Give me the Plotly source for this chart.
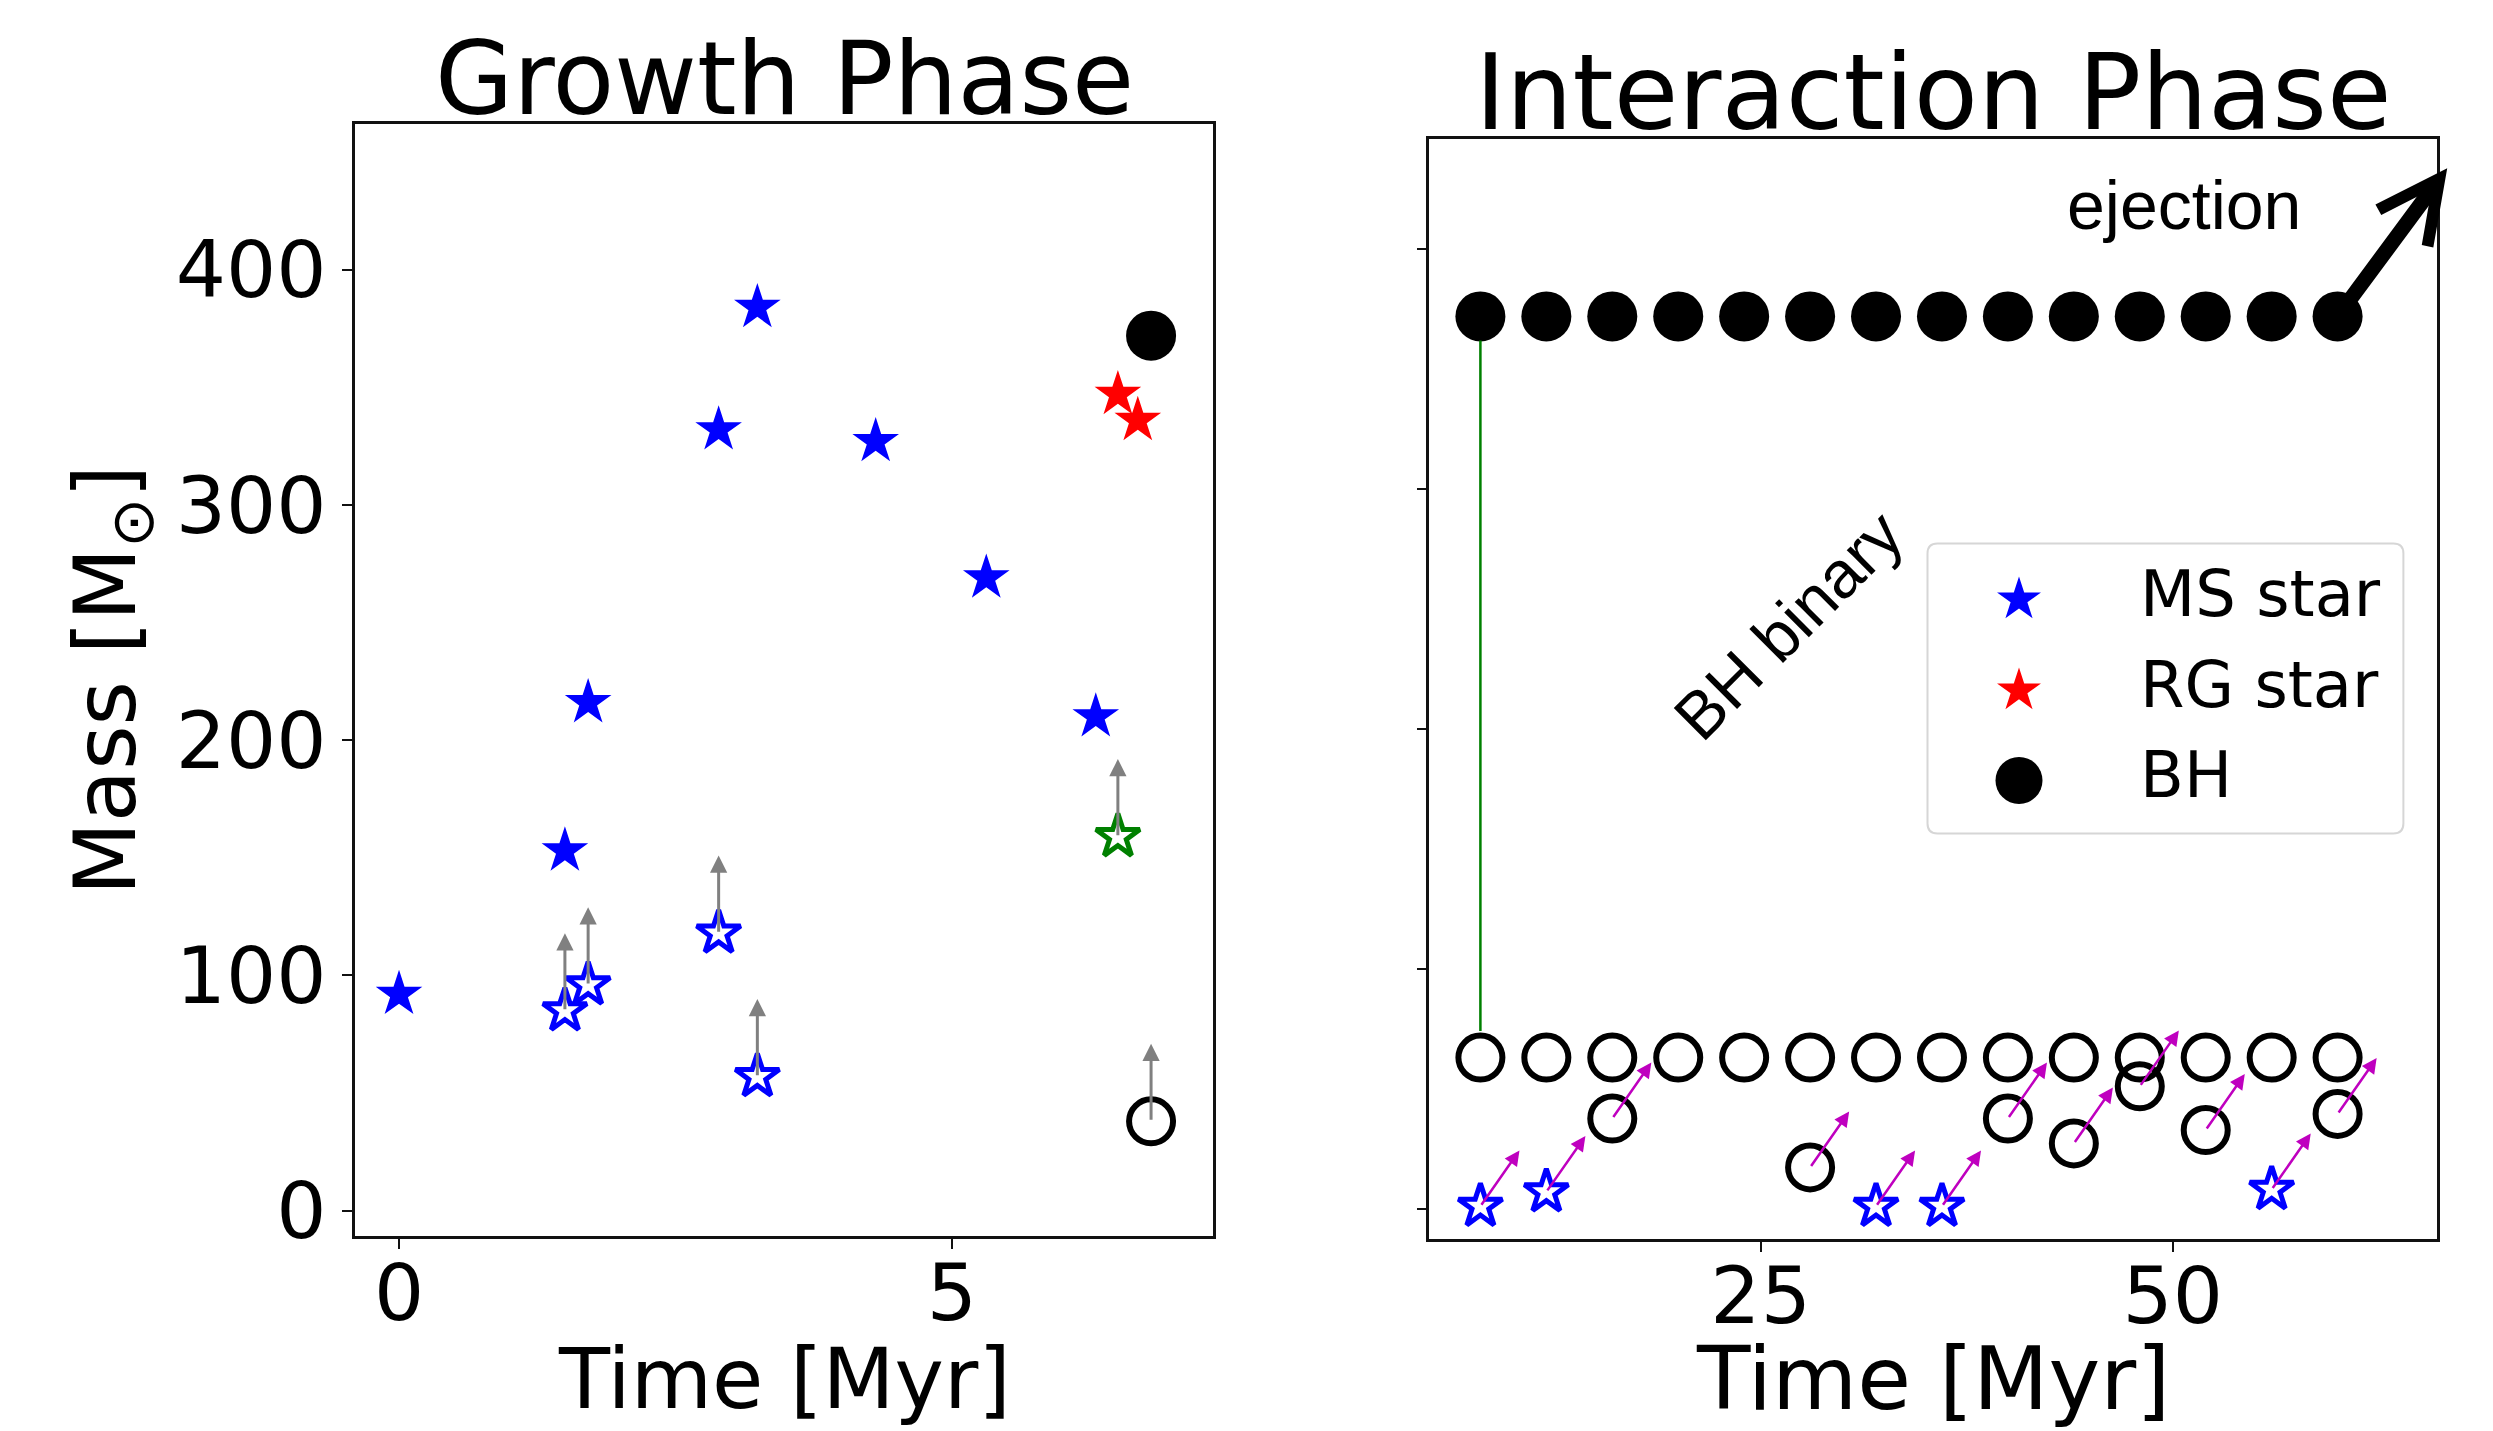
import plotly.graph_objects as go

W, H = 2493, 1451   # page height; the photograph squeezes it to 1431 rows
REF_H = 1431

# ---------------- Growth phase data ----------------
ms_t = [0.0, 1.50, 1.71, 2.89, 3.24, 4.31, 5.31, 6.30]
ms_m = [92, 153, 216, 332, 384, 327, 269, 210]
rg_t = [6.50, 6.68]
rg_m = [347, 336]
bh_t = [6.80]
bh_m = [372]
acc_ms_t = [1.50, 1.71, 2.89, 3.24]
acc_ms_m = [85, 96, 118, 57]
acc_rg_t = [6.50]
acc_rg_m = [159]
acc_bh_t = [6.80]
acc_bh_m = [38]
growth_dm = [33, 33, 33, 33, 33, 33]   # accretion arrow length (Msun)

# ---------------- Interaction phase data ----------------
int_t = [8, 12, 16, 20, 24, 28, 32, 36, 40, 44, 48, 52, 56, 60]
bh1_m = [372, 372, 372, 372, 372, 372, 372, 372, 372, 372, 372, 372, 372, 372]
bh2_m = [63, 63, 63, 63, 63, 63, 63, 63, 63, 63, 63, 63, 63, 63]
int_ms_t = [8, 12, 32, 36, 56]
int_ms_m = [1, 7, 1, 1, 8]
int_bh_t = [16, 28, 40, 44, 48, 52, 60]
int_bh_m = [37.6, 17.2, 37.6, 27.2, 51.0, 32.8, 39.5]
enc_dt, enc_dm = 2.37, 23.3      # direction of encounter arrows
eject_dt, eject_dm = 6.65, 61.8  # ejection arrow

legend_labels = ["MS star", "RG star", "BH"]

BLUE, RED, GREEN, BLACK = "#0000ff", "#ff0000", "#008000", "#000000"
GRAY, MAG = "#808080", "#bf00bf"
FONT = "DejaVu Sans"
ARIAL = "Liberation Sans, Arial"

S_STAR, S_OSTAR, S_CIRC, S_OCIRC = 35, 33, 50, 44
LW_OSTAR, LW_OCIRC = 5, 6


def py(px):
    """row in the final picture (from top) -> paper fraction"""
    return 1 - px / REF_H


fig = go.Figure()


def sc(x, y, sym, color, size, lw, xa="x", ya="y"):
    return go.Scatter(
        x=x, y=y, mode="markers", xaxis=xa, yaxis=ya, showlegend=False,
        cliponaxis=False, hoverinfo="skip",
        marker=dict(symbol=sym, size=size, color=color, opacity=1,
                    line=dict(width=lw, color=color)))


# left panel
fig.add_trace(sc(ms_t, ms_m, "star", BLUE, S_STAR, 0))
fig.add_trace(sc(rg_t, rg_m, "star", RED, S_STAR, 0))
fig.add_trace(sc(bh_t, bh_m, "circle", BLACK, S_CIRC, 0))
fig.add_trace(sc(acc_ms_t, acc_ms_m, "star-open", BLUE, S_OSTAR, LW_OSTAR))
fig.add_trace(sc(acc_rg_t, acc_rg_m, "star-open", GREEN, S_OSTAR, LW_OSTAR))
fig.add_trace(sc(acc_bh_t, acc_bh_m, "circle-open", BLACK, S_OCIRC, LW_OCIRC))

# right panel
fig.add_trace(sc(int_t, bh1_m, "circle", BLACK, S_CIRC, 0, "x2", "y2"))
fig.add_trace(sc(int_t, bh2_m, "circle-open", BLACK, S_OCIRC, LW_OCIRC, "x2", "y2"))
fig.add_trace(sc(int_bh_t, int_bh_m, "circle-open", BLACK, S_OCIRC, LW_OCIRC, "x2", "y2"))
fig.add_trace(sc(int_ms_t, int_ms_m, "star-open", BLUE, S_OSTAR, LW_OSTAR, "x2", "y2"))

annotations = []


def arrow(xr, yr, x0, y0, x1, y1, color, width, head, size, **kw):
    d = dict(x=x1, y=y1, ax=x0, ay=y0, xref=xr, yref=yr, axref=xr, ayref=yr,
             text="", showarrow=True, arrowhead=head, arrowsize=size,
             arrowwidth=width, arrowcolor=color)
    d.update(kw)
    return d


# accretion arrows (growth phase)
acc_t = acc_ms_t + acc_rg_t + acc_bh_t
acc_m = acc_ms_m + acc_rg_m + acc_bh_m
for t, m, dm in zip(acc_t, acc_m, growth_dm):
    annotations.append(arrow("x", "y", t, m, t, m + dm, GRAY, 3, 2, 1.15))

# BH binary connector
annotations.append(arrow("x2", "y2", int_t[0], bh2_m[0], int_t[0], bh1_m[0],
                         GREEN, 2.5, 0, 1, standoff=24, startstandoff=25))

# encounter arrows
for t, m in zip(int_ms_t + int_bh_t, int_ms_m + int_bh_m):
    annotations.append(arrow("x2", "y2", t, m, t + enc_dt, m + enc_dm, MAG, 2.5, 2, 1.2))

# ejection arrow
annotations.append(arrow("x2", "y2", int_t[-1], bh1_m[-1],
                         int_t[-1] + eject_dt, bh1_m[-1] + eject_dm, BLACK, 15, 5, 0.8))

annotations.append(dict(x=50.7, y=418.4, xref="x2", yref="y2", text="ejection",
                        showarrow=False, font=dict(family=ARIAL, size=68, color="black"),
                        xanchor="center", yanchor="middle"))
annotations.append(dict(x=26.68, y=243.5, xref="x2", yref="y2", text="BH binary",
                        showarrow=False, textangle=-45,
                        font=dict(family=ARIAL, size=66, color="black"),
                        xanchor="center", yanchor="middle"))

# titles
annotations.append(dict(x=784 / W, y=py(79), xref="paper", yref="paper",
                        text="Growth Phase", showarrow=False,
                        font=dict(family=FONT, size=101, color="black"),
                        xanchor="center", yanchor="middle"))
annotations.append(dict(x=1933 / W, y=py(93.5), xref="paper", yref="paper",
                        text="Interaction Phase", showarrow=False,
                        font=dict(family=FONT, size=105, color="black"),
                        xanchor="center", yanchor="middle"))

# x-axis titles (placed as paper annotations under each panel)
annotations.append(dict(x=784 / W, y=py(1380), xref="paper", yref="paper",
                        text="Time [Myr]", showarrow=False,
                        font=dict(family=FONT, size=83.5, color="black"),
                        xanchor="center", yanchor="middle"))
annotations.append(dict(x=1933 / W, y=py(1380), xref="paper", yref="paper",
                        text="Time [Myr]", showarrow=False,
                        font=dict(family=FONT, size=87.5, color="black"),
                        xanchor="center", yanchor="middle"))

# legend (drawn manually to keep full-size symbols)
leg_x_sym, leg_x_txt = 2019 / W, 2137.6 / W
leg_y_sym = [py(600), py(691), py(781)]
leg_y_txt = [py(594), py(685), py(776)]
for lab, yy in zip(legend_labels, leg_y_txt):
    annotations.append(dict(x=leg_x_txt, y=yy, xref="paper", yref="paper", text=lab,
                            showarrow=False, font=dict(family=FONT, size=64, color="black"),
                            xanchor="left", yanchor="middle"))
fig.add_trace(go.Scatter(
    x=[leg_x_sym] * 3, y=leg_y_sym, mode="markers", xaxis="x3", yaxis="y3",
    showlegend=False, hoverinfo="skip", cliponaxis=False,
    marker=dict(symbol=["star", "star", "circle"], color=[BLUE, RED, BLACK],
                size=[S_STAR - 2, S_STAR - 2, S_CIRC - 3], opacity=1, line=dict(width=0))))

x0, x1 = 1927.5 / W, 2403.4 / W
y0, y1 = py(834), py(544)
rx, ry = 10 / W, 10 / REF_H
path = (f"M{x0+rx},{y0} L{x1-rx},{y0} Q{x1},{y0} {x1},{y0+ry} L{x1},{y1-ry} "
        f"Q{x1},{y1} {x1-rx},{y1} L{x0+rx},{y1} Q{x0},{y1} {x0},{y1-ry} "
        f"L{x0},{y0+ry} Q{x0},{y0} {x0+rx},{y0} Z")
shapes = [dict(type="path", path=path, xref="paper", yref="paper",
               line=dict(color="#d6d6d6", width=2), fillcolor="white",
               layer="below")]

axis_common = dict(showline=True, mirror=True, linecolor="#111", linewidth=2.5,
                   ticks="outside", ticklen=10, tickwidth=2, tickcolor="#111",
                   showgrid=False, zeroline=False,
                   tickfont=dict(family=FONT, size=79, color="black"))

fig.update_layout(
    width=W, height=H, margin=dict(l=0, r=0, t=0, b=0),
    paper_bgcolor="white", plot_bgcolor="rgba(0,0,0,0)",
    showlegend=False, annotations=annotations, shapes=shapes,
    xaxis=dict(domain=[355 / W, 1213 / W], range=[-0.398, 7.36], anchor="y",
               tickvals=[0, 5], ticklabelstandoff=-24, **axis_common),
    yaxis=dict(domain=[py(1237), py(124)], range=[-10.8, 462], anchor="x",
               tickvals=[0, 100, 200, 300, 400],
               title=dict(text="Mass [M<sub>⊙</sub>]", standoff=12,
                          font=dict(family=FONT, size=85, color="black")), **axis_common),
    xaxis2=dict(domain=[1429.3 / W, 2436.5 / W], range=[4.9, 66.0], anchor="y2",
                tickvals=[25, 50], ticklabelstandoff=-24, **axis_common),
    yaxis2=dict(domain=[py(1240), py(139)], range=[-12.7, 446], anchor="x2",
                tickvals=[0, 100, 200, 300, 400], showticklabels=False, **axis_common),
    xaxis3=dict(domain=[0, 1], range=[0, 1], anchor="y3", visible=False),
    yaxis3=dict(domain=[0, 1], range=[0, 1], anchor="x3", visible=False),
)

fig.write_html("out.html", config={"displayModeBar": False},
               post_script="document.body.style.margin='0';document.body.style.overflow='hidden';")
